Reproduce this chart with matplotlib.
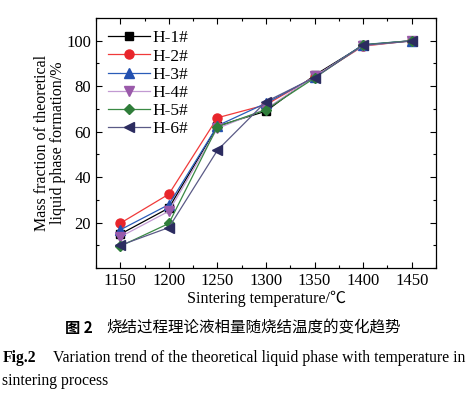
import numpy as np
import matplotlib
matplotlib.use("Agg")
import matplotlib.pyplot as plt
from matplotlib.ticker import MultipleLocator

plt.rcParams['font.family'] = ['Liberation Serif', 'Noto Sans CJK SC']
plt.rcParams['mathtext.fontset'] = 'stix'

# data
temps = [1150, 1200, 1250, 1300, 1350, 1400, 1450]
h1 = [14.9, 26.4, 62.4, 69.0, 84.8, 98.0, 100.0]
h2 = [19.7, 32.5, 66.1, 71.8, 84.2, 97.6, 100.0]
h3 = [16.8, 27.9, 62.6, 72.5, 84.0, 98.3, 100.0]
h4 = [13.7, 25.0, 61.4, 70.0, 84.3, 97.8, 100.0]
h5 = [9.6, 19.6, 62.2, 69.6, 83.6, 98.2, 100.0]
h6 = [10.0, 17.8, 51.8, 73.2, 83.8, 98.0, 99.8]
labels = ["H-1#", "H-2#", "H-3#", "H-4#", "H-5#", "H-6#"]
xticks = [1150, 1200, 1250, 1300, 1350, 1400, 1450]
yticks = [20, 40, 60, 80, 100]

series = [h1, h2, h3, h4, h5, h6]
line_colors = ["#000000", "#f03a3a", "#2a5cb8", "#c29ad2", "#3a8a44", "#5a5a86"]
mark_colors = ["#000000", "#e8252b", "#2350b0", "#9a5aaa", "#2f7d3a", "#2c2c60"]
markers = ["s", "o", "^", "v", "D", "<"]
msizes = [5.5, 6.5, 6.5, 6.5, 5.5, 7]

fig = plt.figure(figsize=(4.67, 3.95), dpi=100)
ax = fig.add_axes([0.2056, 0.3215, 0.728, 0.633])

for y, lab, lc, mc, mk, ms in zip(series, labels, line_colors, mark_colors, markers, msizes):
    ax.plot(temps, y, color=lc, lw=0.9, marker=mk, ms=ms,
            markerfacecolor=mc, markeredgecolor=mc, label=lab)

ax.set_xlim(1125, 1475)
ax.set_ylim(0, 110)
ax.set_xticks(xticks)
ax.set_yticks(yticks)
ax.xaxis.set_minor_locator(MultipleLocator(25))
ax.yaxis.set_minor_locator(MultipleLocator(10))
ax.tick_params(which='both', direction='in', top=True, right=True, labelsize=12, width=0.8)
ax.tick_params(which='major', length=4)
ax.tick_params(which='minor', length=2.5)
for s in ax.spines.values():
    s.set_linewidth(0.9)

ax.set_xlabel("Sintering temperature/℃", fontsize=11.5, labelpad=1)
ax.set_ylabel("Mass fraction of theoretical\nliquid phase formation/%", fontsize=11.5,
              labelpad=0, linespacing=1.0)

ax.legend(loc='upper left', frameon=False, fontsize=12.5, handlelength=2.4,
          handletextpad=0.15, labelspacing=0.12, borderaxespad=0.3,
          bbox_to_anchor=(0.0, 1.0))

fig.text(0.139, 0.170, "图 2", fontsize=11, fontweight='bold', ha='left', va='center',
         family=['Noto Sans CJK SC'])
fig.text(0.227, 0.170, "烧结过程理论液相量随烧结温度的变化趋势", fontsize=11.2,
         ha='left', va='center', family=['Noto Sans CJK SC'])
fig.text(0.005, 0.094, "Fig.2", fontsize=11.3, fontweight='bold', ha='left', va='center')
fig.text(0.113, 0.094, "Variation trend of the theoretical liquid phase with temperature in",
         fontsize=11.3, ha='left', va='center')
fig.text(0.005, 0.036, "sintering process", fontsize=11.3, ha='left', va='center')

fig.savefig("out.png", dpi=100)
